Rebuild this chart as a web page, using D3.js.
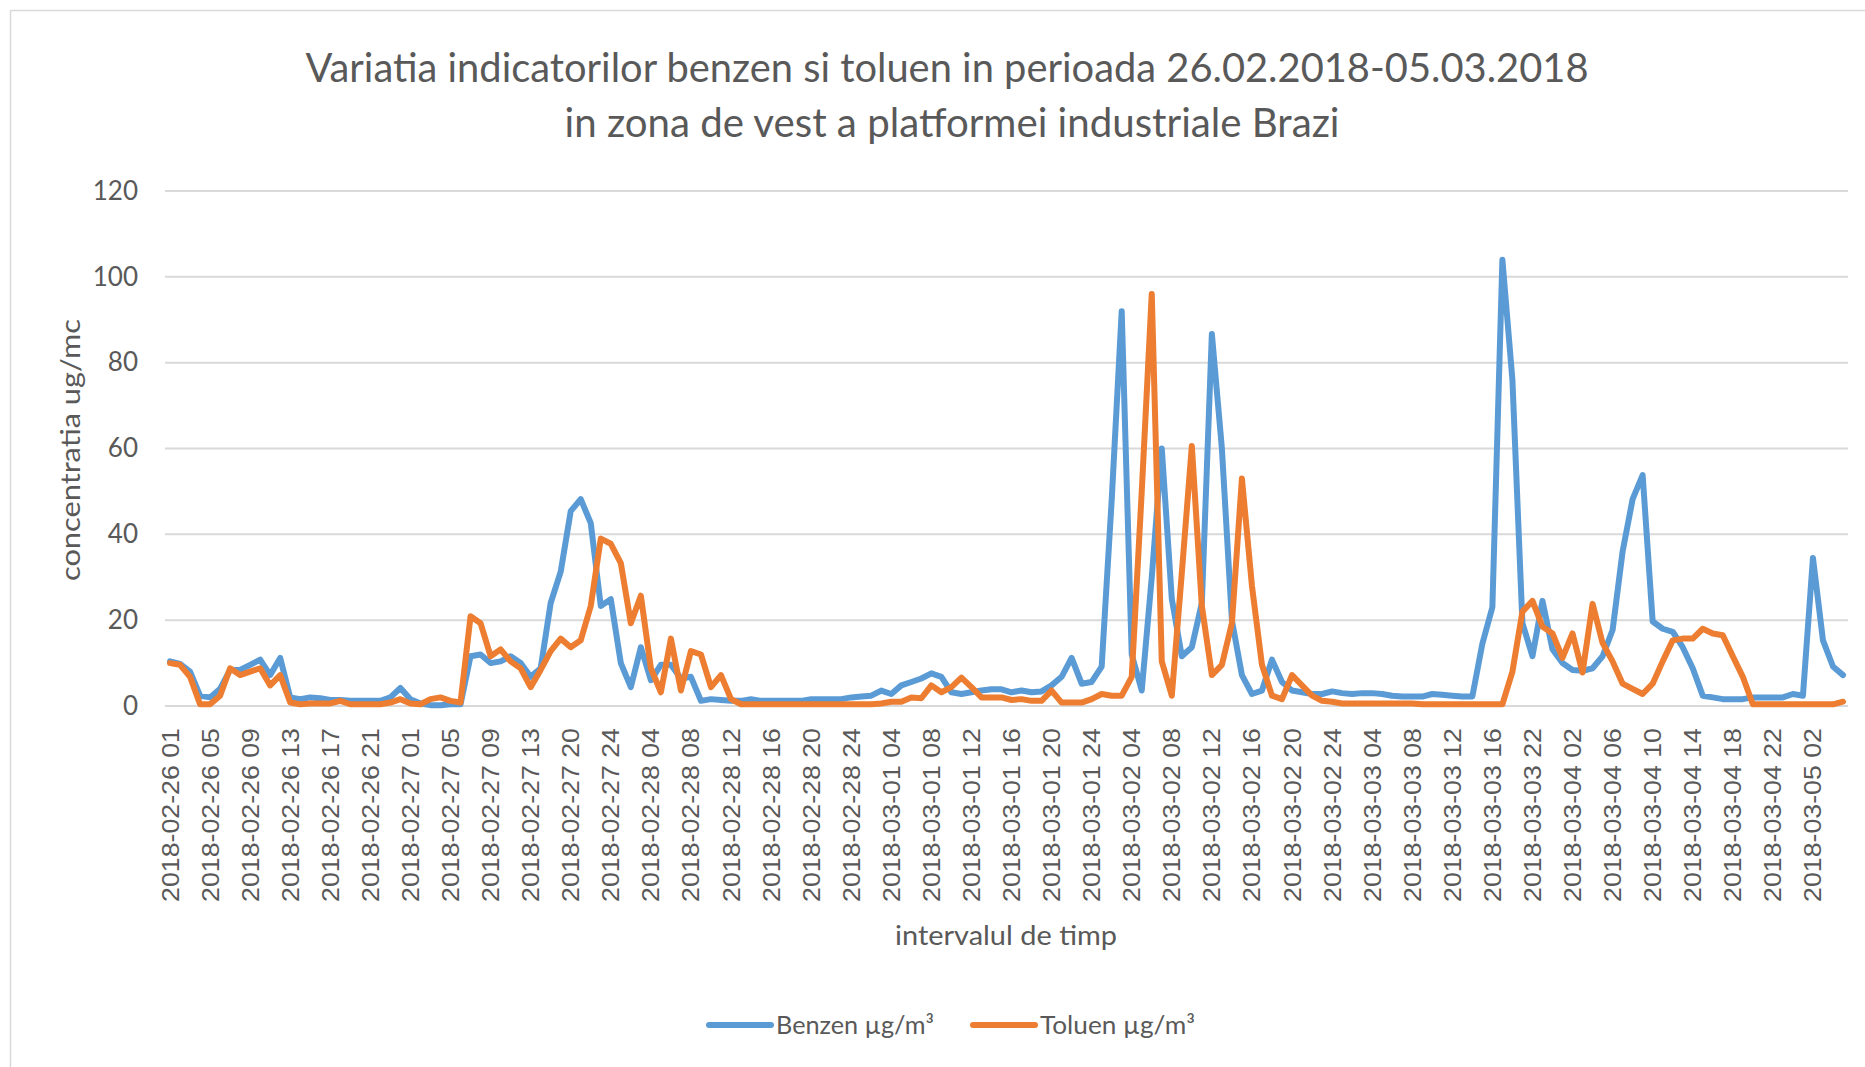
<!DOCTYPE html>
<html>
<head>
    <meta charset="utf-8">
    <script src="https://cdn.jsdelivr.net/npm/d3@7/dist/d3.min.js"></script>
    <title></title>
    <style>
        * {
            margin: 0;
            padding: 0;
        }

        body {
            background: #fff;
        }

        svg {
            display: block;
        }
    </style>
</head>
<body>

    <svg id="chart" width="1865" height="1067"></svg>
    <script>
        // days and the hours that exist in the data for each day (some hours are missing)
        var days = ["2018-02-26", "2018-02-27", "2018-02-28", "2018-03-01", "2018-03-02", "2018-03-03", "2018-03-04", "2018-03-05"];
        var dayHours = [
            d3.range(1, 25),
            d3.range(1, 17).concat(d3.range(20, 25)),
            d3.range(1, 25),
            d3.range(1, 25),
            d3.range(1, 25),
            d3.range(1, 20).concat(d3.range(22, 25)),
            d3.range(1, 25),
            d3.range(1, 6)
        ];

        var benzen = [
            10.4, 9.8, 8, 2.4, 2, 4, 8.4, 8.4, 9.6, 10.8, 7.2, 11.2, 2, 1.6, 2, 1.8, 1.4, 1.4, 1.2, 1.2, 1.2, 1.2, 2, 4.2,
            1.6, 0.6, 0.2, 0.2, 0.4, 0.4, 11.6, 12, 10, 10.4, 11.6, 10, 6.8, 8.8, 24, 31.3, 45.4, 48.2, 42.6, 23.3, 24.9,
            10, 4.4, 13.7, 6, 9.6, 9.6, 6.4, 6.8, 1.2, 1.6, 1.4, 1.2, 1.2, 1.6, 1.2, 1.2, 1.2, 1.2, 1.2, 1.6, 1.6, 1.6, 1.6, 2,
            2.2, 2.4, 3.6, 2.8, 4.8, 5.6, 6.4, 7.6, 6.8, 3.2, 2.8, 3.2, 3.6, 3.9, 3.9, 3.2, 3.6, 3.2, 3.4, 4.8, 6.8, 11.2, 5.2, 5.6,
            9.2, 48, 92, 12, 3.6, 30, 60, 25, 11.6, 13.7, 24, 86.7, 60, 20, 7.2, 2.8, 3.6, 10.8, 5.6, 3.6, 3.2, 2.8, 2.8, 3.4,
            3, 2.8, 3, 3, 2.8, 2.4, 2.2, 2.2, 2.2, 2.8, 2.6, 2.4, 2.2, 2.2, 14.5, 23, 104, 76, 19.3, 11.6, 24.5, 13.2,
            10, 8.4, 8.2, 8.8, 11.6, 17.7, 36, 48.2, 53.8, 19.7, 18, 17.3, 13.7, 8.8, 2.4, 2, 1.6, 1.6, 1.6, 2, 2, 2, 2, 2.8,
            2.4, 34.5, 15.3, 9.2, 7.2
        ];

        var toluen = [
            10, 9.6, 6.8, 0.4, 0.4, 2.4, 8.8, 7.2, 8, 8.8, 4.8, 7.2, 0.8, 0.4, 0.6, 0.6, 0.6, 1.2, 0.4, 0.4, 0.4, 0.4, 0.8, 1.6,
            0.6, 0.4, 1.6, 2, 1.2, 0.8, 20.9, 19.3, 11.6, 13.2, 10.4, 8.8, 4.4, 8.4, 12.8, 15.7, 13.7, 15.3, 23.3, 39, 37.8,
            33.3, 19.3, 25.7, 8.8, 3.2, 15.7, 3.6, 12.8, 12, 4.4, 7.2, 1.6, 0.4, 0.4, 0.4, 0.4, 0.4, 0.4, 0.4, 0.4, 0.4, 0.4, 0.4, 0.4,
            0.4, 0.4, 0.6, 1, 1, 2, 1.8, 4.8, 3.2, 4.4, 6.6, 4.4, 2, 2, 2, 1.4, 1.6, 1.2, 1.2, 3.6, 0.8, 0.8, 0.8, 1.6,
            2.8, 2.4, 2.4, 6.8, 50, 96, 10.4, 2.4, 31, 60.6, 23.3, 7.2, 9.6, 19.3, 53, 28, 9.6, 2.4, 1.6, 7.2, 4.8, 2.4, 1.2, 1,
            0.6, 0.6, 0.6, 0.6, 0.6, 0.6, 0.6, 0.6, 0.4, 0.4, 0.4, 0.4, 0.4, 0.4, 0.4, 0.4, 0.4, 8, 22, 24.5, 18.5, 16.9,
            11.2, 16.9, 7.8, 23.8, 14.7, 10.4, 5.2, 4, 2.8, 5.2, 10.4, 15.3, 15.7, 15.7, 18, 16.9, 16.5, 11.6, 6.8, 0.4, 0.4, 0.4, 0.4, 0.4,
            0.4, 0.4, 0.4, 0.4, 1
        ];

        var yTicks = [0, 20, 40, 60, 80, 100, 120];
        var seriesNames = ["Benzen \u00b5g/m\u00b3", "Toluen \u00b5g/m\u00b3"];
        var colors = ["#5B9BD5", "#ED7D31"];

        var categories = [];
        days.forEach(function (d, i) {
            dayHours[i].forEach(function (h) {
                categories.push(d + " " + (h < 10 ? "0" + h : h));
            });
        });

        var svg = d3.select("#chart");
        var textColor = "#595959";

        // chart frame
        svg.append("rect")
            .attr("x", 10.5).attr("y", 10.5)
            .attr("width", 1900).attr("height", 1100)
            .attr("fill", "none").attr("stroke", "#D9D9D9").attr("stroke-width", 1.5);

        // titles
        svg.append("text")
            .attr("x", 947).attr("y", 82)
            .attr("text-anchor", "middle")
            .attr("textLength", 1283).attr("lengthAdjust", "spacingAndGlyphs")
            .style("font-family", "Lato").style("font-size", "40px").attr("fill", textColor)
            .text("Variatia indicatorilor benzen si toluen in perioada 26.02.2018-05.03.2018");
        svg.append("text")
            .attr("x", 952).attr("y", 137)
            .attr("text-anchor", "middle")
            .attr("textLength", 775).attr("lengthAdjust", "spacingAndGlyphs")
            .style("font-family", "Lato").style("font-size", "40px").attr("fill", textColor)
            .text("in zona de vest a platformei industriale Brazi");

        var x = d3.scalePoint()
            .domain(categories)
            .range([170, 1843]);

        var y = d3.scaleLinear()
            .domain([0, 120])
            .range([706, 191]);

        // grid lines
        svg.append("g").selectAll("line").data(yTicks).enter()
            .append("line")
            .attr("x1", 165).attr("x2", 1848)
            .attr("y1", function (d) { return y(d); })
            .attr("y2", function (d) { return y(d); })
            .attr("stroke", "#D9D9D9").attr("stroke-width", 2);

        // y axis
        var yAxis = svg.append("g")
            .attr("transform", "translate(152,0)")
            .call(d3.axisLeft(y).tickValues(yTicks).tickSize(0).tickPadding(14));
        yAxis.select(".domain").remove();
        yAxis.selectAll("text")
            .style("font-family", "Lato").style("font-size", "26px").attr("fill", textColor);

        // x axis
        var xAxis = svg.append("g")
            .attr("transform", "translate(0,706)")
            .call(d3.axisBottom(x)
                .tickValues(categories.filter(function (d, i) { return i % 4 == 0; }))
                .tickSize(0));
        xAxis.select(".domain").remove();
        xAxis.selectAll("text")
            .attr("transform", "rotate(-90)")
            .attr("x", -22).attr("y", 8).attr("dy", 0)
            .attr("text-anchor", "end")
            .attr("textLength", 174).attr("lengthAdjust", "spacingAndGlyphs")
            .style("font-family", "Liberation Sans").style("font-size", "23px").attr("fill", textColor);

        // axis titles
        svg.append("text")
            .attr("transform", "translate(80,450) rotate(-90)")
            .attr("text-anchor", "middle")
            .attr("textLength", 262).attr("lengthAdjust", "spacingAndGlyphs")
            .style("font-family", "Lato").style("font-size", "26px").attr("fill", textColor)
            .text("concentratia ug/mc");
        svg.append("text")
            .attr("x", 1006).attr("y", 945)
            .attr("text-anchor", "middle")
            .attr("textLength", 222).attr("lengthAdjust", "spacingAndGlyphs")
            .style("font-family", "Lato").style("font-size", "26px").attr("fill", textColor)
            .text("intervalul de timp");

        // lines
        var line = d3.line()
            .x(function (d, i) { return x(categories[i]); })
            .y(function (d) { return y(d); });

        [benzen, toluen].forEach(function (s, k) {
            svg.append("path")
                .datum(s)
                .attr("d", line)
                .attr("fill", "none")
                .attr("stroke", colors[k])
                .attr("stroke-width", 6)
                .attr("stroke-linejoin", "round")
                .attr("stroke-linecap", "round");
        });

        // legend
        var legendX = [709, 973];
        var legendW = [158, 155];
        seriesNames.forEach(function (name, k) {
            svg.append("line")
                .attr("x1", legendX[k]).attr("x2", legendX[k] + 62)
                .attr("y1", 1025).attr("y2", 1025)
                .attr("stroke", colors[k]).attr("stroke-width", 6)
                .attr("stroke-linecap", "round");
            svg.append("text")
                .attr("x", legendX[k] + 67).attr("y", 1034)
                .attr("textLength", legendW[k]).attr("lengthAdjust", "spacingAndGlyphs")
                .style("font-family", "Lato").style("font-size", "25px").attr("fill", textColor)
                .text(name);
        });
    </script>
</body>
</html>
